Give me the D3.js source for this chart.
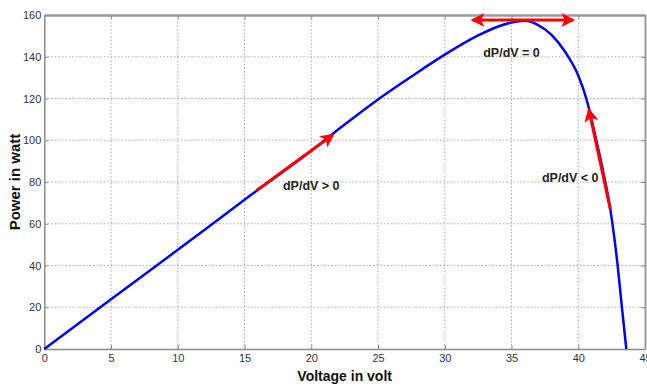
<!DOCTYPE html>
<html>
<head>
<meta charset="utf-8">
<script src="https://cdn.jsdelivr.net/npm/d3@7"></script>
<style>
  body { margin: 0; background: #fff; }
  .grid line { stroke: #a8a8a8; stroke-width: 1; stroke-dasharray: 1.5,2; }
  .tick text { font-family: "Liberation Sans", Arial, sans-serif; font-size: 11px; fill: #333; }
</style>
</head>
<body>
<script>
// P-V curve of the panel
var voltage = [0, 5, 10, 15, 20, 22.5, 25, 27.5, 30, 32.5, 34, 35, 36, 37, 38, 39, 40, 40.6, 41.35, 41.9, 42.4, 42.95, 43.27, 43.6];
var power   = [0, 23.8, 47.5, 71.5, 95, 107.5, 119.5, 130.5, 141, 150.2, 154.5, 156.4, 157.2, 155.2, 150.5, 142.5, 131, 120, 100, 84, 67, 40, 20, 0];

var xTicks = [0, 5, 10, 15, 20, 25, 30, 35, 40, 45];
var yTicks = [0, 20, 40, 60, 80, 100, 120, 140, 160];

// arrows: [v0, p0, v1, p1]
var arrowRise = [15.9, 76, 21.6, 102.5];
var arrowPeak = [32.1, 157.6, 39.6, 157.6];
var arrowFall = [42.4, 67, 40.8, 114.5];

var labels = ["dP/dV > 0", "dP/dV = 0", "dP/dV < 0"];
var labelPos = [[20.0, 76], [35.0, 140], [39.4, 80]];

var margin = {top: 15, right: 2, bottom: 41, left: 44.3},
    width = 647 - margin.left - margin.right,
    height = 390 - margin.top - margin.bottom;

var x = d3.scaleLinear().domain([0, 45]).range([0, width]);
var y = d3.scaleLinear().domain([0, 160]).range([height, 0]);

var svg = d3.select("body").append("svg")
    .attr("width", 647)
    .attr("height", 390);

var defs = svg.append("defs");
defs.append("marker")
    .attr("id", "head")
    .attr("markerUnits", "userSpaceOnUse")
    .attr("viewBox", "0 -6 12 12")
    .attr("refX", 10)
    .attr("refY", 0)
    .attr("markerWidth", 14)
    .attr("markerHeight", 14)
    .attr("orient", "auto-start-reverse")
  .append("path")
    .attr("d", "M0,-6L12,0L0,6L3,0Z")
    .attr("fill", "#ff0000");

var g = svg.append("g")
    .attr("transform", "translate(" + margin.left + "," + margin.top + ")");

// grid
g.append("g").attr("class", "grid")
  .selectAll("line").data(xTicks.slice(1, -1)).enter().append("line")
    .attr("x1", x).attr("x2", x).attr("y1", 0).attr("y2", height);
g.append("g").attr("class", "grid")
  .selectAll("line").data(yTicks.slice(1, -1)).enter().append("line")
    .attr("y1", y).attr("y2", y).attr("x1", 0).attr("x2", width);

// axes, MATLAB style ticks inside
var xAxis = g.append("g")
    .attr("transform", "translate(0," + height + ")")
    .call(d3.axisBottom(x).tickValues(xTicks).tickSizeInner(-4).tickSizeOuter(0).tickPadding(5));
var yAxis = g.append("g")
    .call(d3.axisLeft(y).tickValues(yTicks).tickSizeInner(-4).tickSizeOuter(0).tickPadding(3));
var topAxis = g.append("g")
    .call(d3.axisTop(x).tickValues(xTicks).tickSizeInner(-4).tickSizeOuter(0).tickFormat(""));
var rightAxis = g.append("g")
    .attr("transform", "translate(" + width + ",0)")
    .call(d3.axisRight(y).tickValues(yTicks).tickSizeInner(-4).tickSizeOuter(0).tickFormat(""));

[xAxis, yAxis, topAxis, rightAxis].forEach(function(a) {
  a.selectAll(".domain").attr("stroke", "#8c8c8c").attr("stroke-width", 1.5);
  a.selectAll(".tick line").attr("stroke", "#8c8c8c");
});
topAxis.select(".domain").attr("stroke", "#9a9a9a").attr("stroke-width", 2.5);
rightAxis.select(".domain").attr("stroke", "#9a9a9a").attr("stroke-width", 2);

// P-V curve
var pts = voltage.map(function(v, i) { return [v, power[i]]; });
var line = d3.line()
    .x(function(d) { return x(d[0]); })
    .y(function(d) { return y(d[1]); })
    .curve(d3.curveMonotoneX);

g.append("path")
    .datum(pts)
    .attr("fill", "none")
    .attr("stroke", "#0000ff")
    .attr("stroke-width", 2.5)
    .attr("d", line);

// red arrows
function arrow(a, both) {
  var p = g.append("line")
      .attr("x1", x(a[0])).attr("y1", y(a[1]))
      .attr("x2", x(a[2])).attr("y2", y(a[3]))
      .attr("stroke", "#ff0000")
      .attr("stroke-width", 3)
      .attr("marker-end", "url(#head)");
  if (both) p.attr("marker-start", "url(#head)");
}
arrow(arrowRise, false);
arrow(arrowPeak, true);
arrow(arrowFall, false);

g.selectAll(".lbl").data(labels).enter().append("text")
    .attr("class", "lbl")
    .attr("x", function(d, i) { return x(labelPos[i][0]); })
    .attr("y", function(d, i) { return y(labelPos[i][1]); })
    .attr("text-anchor", "middle")
    .attr("font-family", "Liberation Sans, Arial, sans-serif")
    .attr("font-size", 12.5)
    .attr("font-weight", "bold")
    .attr("fill", "#222")
    .text(function(d) { return d; });

// axis titles
svg.append("text")
    .attr("x", margin.left + width / 2)
    .attr("y", 381)
    .attr("text-anchor", "middle")
    .attr("font-family", "Liberation Sans, Arial, sans-serif")
    .attr("font-size", 14)
    .attr("font-weight", "bold")
    .attr("fill", "#111")
    .text("Voltage in volt");

svg.append("text")
    .attr("transform", "translate(20," + (margin.top + height / 2) + ") rotate(-90)")
    .attr("text-anchor", "middle")
    .attr("font-family", "Liberation Sans, Arial, sans-serif")
    .attr("font-size", 15)
    .attr("font-weight", "bold")
    .attr("fill", "#111")
    .text("Power in watt");
</script>
</body>
</html>
